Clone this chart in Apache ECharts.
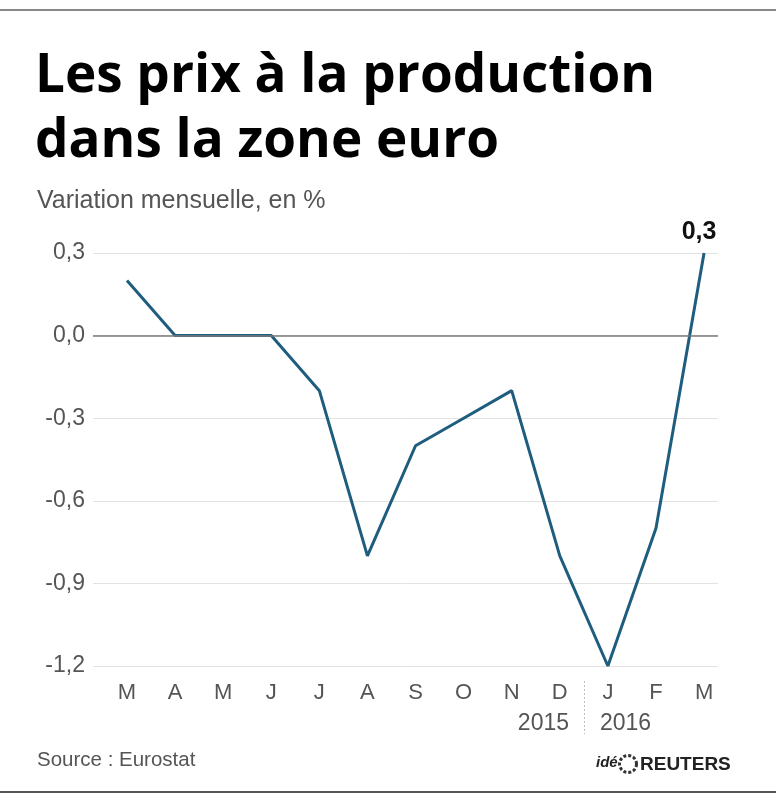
<!DOCTYPE html>
<html><head><meta charset="utf-8">
<script src="https://cdn.jsdelivr.net/npm/echarts@6/dist/echarts.min.js"></script>
<style>html,body{margin:0;padding:0;background:#fff}#c{width:776px;height:800px}</style>
</head><body><div id="c"></div>
<script>
const months = ['M','A','M','J','J','A','S','O','N','D','J','F','M'];
const values = [0.2, 0.0, 0.0, 0.0, -0.2, -0.8, -0.4, -0.3, -0.2, -0.8, -1.2, -0.7, 0.3];
const yTicks = [-1.2, -0.9, -0.6, -0.3, 0.0, 0.3];
const years = ['2015', '2016'];
const lastLabel = '0,3';

const cond = "'Liberation Sans Narrow','Liberation Sans',sans-serif";
const chart = echarts.init(document.getElementById('c'), null, {renderer:'canvas'});
const pts = values.map((v,i)=>[i,v]);
chart.setOption({
  animation:false,
  grid:{left:93,right:58,top:253,bottom:134},
  xAxis:{type:'value',min:-0.707,max:12.29,
    axisLine:{show:false},axisTick:{show:false},splitLine:{show:false},
    axisLabel:{customValues:months.map((m,i)=>i),formatter:v=>months[Math.round(v)],
      color:'#555',fontFamily:cond,fontSize:22,margin:16}},
  yAxis:{type:'value',min:-1.2,max:0.3,interval:0.3,
    axisLine:{show:false},axisTick:{show:false},
    splitLine:{lineStyle:{color:'#e2e2e2',width:1}},
    axisLabel:{formatter:v=>v.toFixed(1).replace('.',','),color:'#555',fontFamily:cond,fontSize:23,margin:8}},
  series:[{type:'line',data:pts,symbol:'none',lineStyle:{color:'#1f5d7e',width:3},
    markLine:{silent:true,symbol:'none',label:{show:false},lineStyle:{color:'#7a7a7a',width:1.5,type:'solid'},data:[{yAxis:0}]},
    markPoint:{symbol:'circle',symbolSize:0,data:[{coord:pts[pts.length-1],value:lastLabel}],
      label:{show:true,position:'top',distance:8,offset:[-5,0],formatter:lastLabel,color:'#111',fontWeight:'bold',fontSize:25,fontFamily:"'Liberation Sans',sans-serif"}}
  }],
  graphic:[
    {type:'line',shape:{x1:0,y1:10,x2:776,y2:10},style:{stroke:'#888',lineWidth:2}},
    {type:'line',shape:{x1:0,y1:792,x2:776,y2:792},style:{stroke:'#555',lineWidth:2}},
    {type:'text',left:35,top:44,style:{text:'Les prix à la production\ndans la zone euro',font:"bold 53px 'Open Sans',sans-serif",lineHeight:65,fill:'#000'}},
    {type:'text',left:37,top:189,style:{text:'Variation mensuelle, en %',font:"25px "+cond,fill:'#555'}},
    {type:'line',shape:{x1:584.5,y1:681,x2:584.5,y2:734},style:{stroke:'#bbb',lineWidth:1,lineDash:[2,2]}},
    {type:'text',right:776-569,top:712,style:{text:years[0],font:"23px "+cond,fill:'#555',align:'right'}},
    {type:'text',left:600,top:712,style:{text:years[1],font:"23px "+cond,fill:'#555'}},
    {type:'text',left:37,top:750,style:{text:'Source : Eurostat',font:"20.5px "+cond,fill:'#555'}},
    {type:'text',left:596,top:755,style:{text:'idé',font:"italic bold 15px 'Liberation Sans',sans-serif",fill:'#222'}},
    {type:'circle',shape:{cx:628,cy:764,r:8.5},style:{fill:'none',stroke:'#333',lineWidth:3,lineDash:[3,2]}},
    {type:'text',left:640,top:755,style:{text:'REUTERS',font:"bold 19px 'Liberation Sans',sans-serif",fill:'#222'}}
  ]
});
</script></body></html>
